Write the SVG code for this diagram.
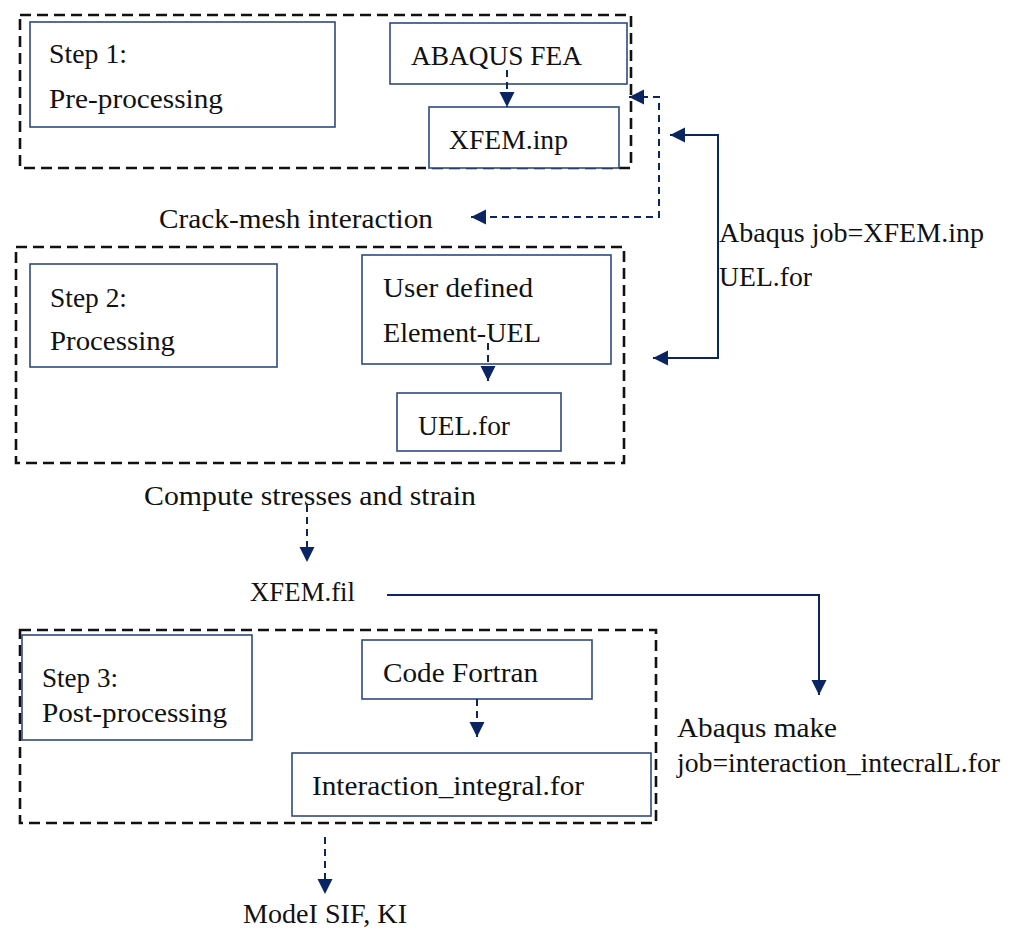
<svg xmlns="http://www.w3.org/2000/svg" width="1026" height="930" viewBox="0 0 1026 930">
<style>
text{font-family:"Liberation Serif","Times New Roman",serif;font-size:27.5px;fill:#111}
.grp{fill:none;stroke:#111;stroke-width:2.6;stroke-dasharray:11 6}
.box{fill:#fff;stroke:#2f4a80;stroke-width:1.6}
.dash{fill:none;stroke:#0b2462;stroke-width:2;stroke-dasharray:7 5}
.solid{fill:none;stroke:#0b2462;stroke-width:2}
</style>
<defs>
<marker id="ah" markerUnits="userSpaceOnUse" markerWidth="16" markerHeight="16" refX="15" refY="7.5" orient="auto-start-reverse" viewBox="0 0 16 16">
<path d="M0,0 L15,7.5 L0,15 z" fill="#0b2462"/>
</marker>
</defs>
<g id="group1"><rect class="grp" x="20" y="15" width="611" height="153"/></g>
<g id="group2"><rect class="grp" x="16" y="247" width="608" height="216"/></g>
<g id="group3"><rect class="grp" x="20" y="630" width="636" height="193"/></g>

<g id="step1"><rect class="box" x="30" y="22" width="305" height="105"/>
<text x="49" y="63" textLength="78" lengthAdjust="spacingAndGlyphs">Step 1:</text>
<text x="49" y="108" textLength="174" lengthAdjust="spacingAndGlyphs">Pre-processing</text></g>
<g id="abaqus"><rect class="box" x="390" y="23" width="237" height="61"/>
<text x="411" y="65" textLength="171" lengthAdjust="spacingAndGlyphs">ABAQUS FEA</text></g>
<g id="xfeminp"><rect class="box" x="429" y="107" width="190" height="61"/>
<text x="449" y="149" textLength="119" lengthAdjust="spacingAndGlyphs">XFEM.inp</text></g>

<g id="step2"><rect class="box" x="30" y="264" width="247" height="103"/>
<text x="50" y="307" textLength="77" lengthAdjust="spacingAndGlyphs">Step 2:</text>
<text x="50" y="350" textLength="125" lengthAdjust="spacingAndGlyphs">Processing</text></g>
<g id="uel"><rect class="box" x="362" y="255" width="249" height="109"/>
<text x="383" y="297" textLength="150" lengthAdjust="spacingAndGlyphs">User defined</text>
<text x="383" y="342" textLength="158" lengthAdjust="spacingAndGlyphs">Element-UEL</text></g>
<g id="uelfor"><rect class="box" x="397" y="393" width="164" height="58"/>
<text x="418" y="435" textLength="92" lengthAdjust="spacingAndGlyphs">UEL.for</text></g>

<g id="step3"><rect class="box" x="22" y="635" width="230" height="105"/>
<text x="42" y="687" textLength="76" lengthAdjust="spacingAndGlyphs">Step 3:</text>
<text x="42" y="722" textLength="185" lengthAdjust="spacingAndGlyphs">Post-processing</text></g>
<g id="fortran"><rect class="box" x="362" y="640" width="230" height="59"/>
<text x="383" y="682" textLength="155" lengthAdjust="spacingAndGlyphs">Code Fortran</text></g>
<g id="interaction"><rect class="box" x="292" y="753" width="359" height="63"/>
<text x="312" y="795" textLength="272" lengthAdjust="spacingAndGlyphs">Interaction_integral.for</text></g>

<g id="labels">
<text x="159" y="228" textLength="274" lengthAdjust="spacingAndGlyphs">Crack-mesh interaction</text>
<text x="719" y="242" textLength="265" lengthAdjust="spacingAndGlyphs">Abaqus job=XFEM.inp</text>
<text x="719" y="286" textLength="93" lengthAdjust="spacingAndGlyphs">UEL.for</text>
<text x="144" y="505" textLength="332" lengthAdjust="spacingAndGlyphs">Compute stresses and strain</text>
<text x="250" y="601" textLength="105" lengthAdjust="spacingAndGlyphs">XFEM.fil</text>
<text x="677" y="737" textLength="160" lengthAdjust="spacingAndGlyphs">Abaqus make</text>
<text x="677" y="772" textLength="323" lengthAdjust="spacingAndGlyphs">job=interaction_intecralL.for</text>
<text x="243" y="923" textLength="164" lengthAdjust="spacingAndGlyphs">ModeI SIF, KI</text>
</g>

<g id="connectors">
<path class="dash" d="M507,70 V107" marker-end="url(#ah)"/>
<path class="dash" d="M629,97 H659 V217 H471" marker-start="url(#ah)" marker-end="url(#ah)"/>
<path class="solid" d="M670,135 H718 V358 H653" marker-start="url(#ah)" marker-end="url(#ah)"/>
<path class="dash" d="M488,343 V381" marker-end="url(#ah)"/>
<path class="dash" d="M307,505 V562" marker-end="url(#ah)"/>
<path class="solid" d="M387,595 H819 V695" marker-end="url(#ah)"/>
<path class="dash" d="M477,699 V737" marker-end="url(#ah)"/>
<path class="dash" d="M325,837 V894" marker-end="url(#ah)"/>
</g>
</svg>
